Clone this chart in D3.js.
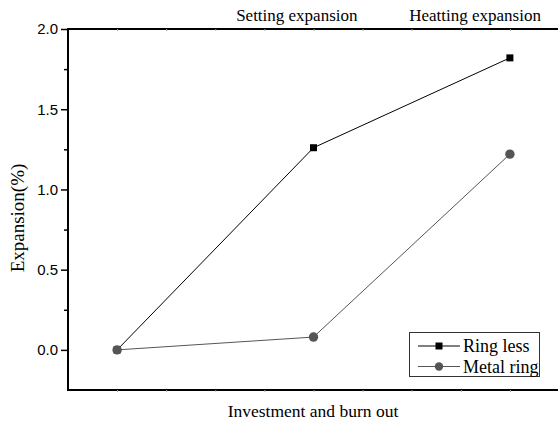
<!DOCTYPE html>
<html><head><meta charset="utf-8">
<script src="https://cdn.jsdelivr.net/npm/d3@7"></script>
<style>body{margin:0;background:#fff}svg{display:block}</style>
</head><body>
<svg id="c" width="558" height="423"></svg>
<script>
const stages = [1, 5, 9];
const ringLess = [0, 1.26, 1.82];
const metalRing = [0, 0.08, 1.22];
const seriesNames = ["Ring less", "Metal ring"];
const yTicks = [0, 0.5, 1.0, 1.5, 2.0];
const yMinor = [0.25, 0.75, 1.25, 1.75];
const xTicks = [1,2,3,4,5,6,7,8,9,10];
const topLabels = ["Setting expansion", "Heatting expansion"];
const topLabelPos = [4.66, 8.29];

const svg = d3.select("#c");
const x = d3.scaleLinear().domain([0, 10]).range([68, 559]);
const y = d3.scaleLinear().domain([-0.25, 2.0]).range([390, 29]);
const serif = "'Liberation Serif','Times New Roman',serif";
const sans = "'Liberation Sans',Arial,sans-serif";

// x axes (bottom and top) with faint tiny ticks
const xb = svg.append("g").attr("transform", `translate(0,${y(-0.25)})`)
  .call(d3.axisBottom(x).tickValues(xTicks).tickSize(2).tickFormat(""));
const xt = svg.append("g").attr("transform", `translate(0,${y(2.0)})`)
  .call(d3.axisTop(x).tickValues(xTicks).tickSize(-2).tickFormat(""));
[xb, xt].forEach(g => {
  g.select(".domain").attr("stroke", "#000").attr("stroke-width", 2).attr("d", `M${x(0)},0H${x(10)}`);
  g.selectAll(".tick line").attr("stroke", "#aaa").attr("stroke-width", 1);
});

// y axis
const ya = svg.append("g").attr("transform", `translate(${x(0)},0)`)
  .call(d3.axisLeft(y).tickValues(yTicks).tickSize(7).tickPadding(3).tickFormat(d3.format(".1f")));
ya.select(".domain").attr("stroke", "#000").attr("stroke-width", 2).attr("d", `M0,${y(-0.25)+1}V${y(2.0)-1}`);
ya.selectAll(".tick line").attr("stroke", "#000").attr("stroke-width", 1.5);
ya.selectAll(".tick text").attr("font-family", sans).attr("font-size", 15).attr("fill", "#000");
const ym = svg.append("g").attr("transform", `translate(${x(0)},0)`)
  .call(d3.axisLeft(y).tickValues(yMinor).tickSize(4).tickFormat(""));
ym.select(".domain").remove();
ym.selectAll(".tick line").attr("stroke", "#000").attr("stroke-width", 1.5);

// top category labels
svg.selectAll("text.top").data(topLabels).enter().append("text").attr("class","top")
  .attr("x", (d,i) => x(topLabelPos[i])).attr("y", 21).attr("text-anchor", "middle")
  .attr("font-family", serif).attr("font-size", 17).text(d => d);

// axis titles
svg.append("text").attr("x", 313).attr("y", 417).attr("text-anchor", "middle")
  .attr("font-family", serif).attr("font-size", 17.5).text("Investment and burn out");
svg.append("text").attr("transform", "translate(24,218) rotate(-90)").attr("text-anchor", "middle")
  .attr("font-family", serif).attr("font-size", 19).text("Expansion(%)");

// lines
const line = d3.line().x(d => x(d[0])).y(d => y(d[1]));
const rl = stages.map((s,i) => [s, ringLess[i]]);
const mr = stages.map((s,i) => [s, metalRing[i]]);
svg.append("path").attr("d", line(rl)).attr("fill","none").attr("stroke","#000").attr("stroke-width",1);
svg.append("path").attr("d", line(mr)).attr("fill","none").attr("stroke","#555").attr("stroke-width",1);
svg.selectAll("rect.m").data(rl).enter().append("rect").attr("class","m")
  .attr("x", d => x(d[0]) - 3.5).attr("y", d => y(d[1]) - 3.5).attr("width", 7).attr("height", 7).attr("fill", "#000");
svg.selectAll("circle.m").data(mr).enter().append("circle").attr("class","m")
  .attr("cx", d => x(d[0])).attr("cy", d => y(d[1])).attr("r", 4.7).attr("fill", "#555");

// legend
const lg = svg.append("g");
lg.append("rect").attr("x", 409.5).attr("y", 332.5).attr("width", 130).attr("height", 44)
  .attr("fill", "#fff").attr("stroke", "#333").attr("stroke-width", 1);
seriesNames.forEach((n, i) => {
  const yy = 346 + i * 20.5;
  const col = i === 0 ? "#000" : "#555";
  lg.append("line").attr("x1", 418).attr("x2", 460).attr("y1", yy).attr("y2", yy).attr("stroke", col).attr("stroke-width", 1);
  if (i === 0) lg.append("rect").attr("x", 435.5).attr("y", yy - 3.5).attr("width", 7).attr("height", 7).attr("fill", "#000");
  else lg.append("circle").attr("cx", 439).attr("cy", yy).attr("r", 4.2).attr("fill", "#555");
  lg.append("text").attr("x", 463).attr("y", yy + 6).attr("font-family", serif).attr("font-size", 18).text(n);
});
</script>
</body></html>
